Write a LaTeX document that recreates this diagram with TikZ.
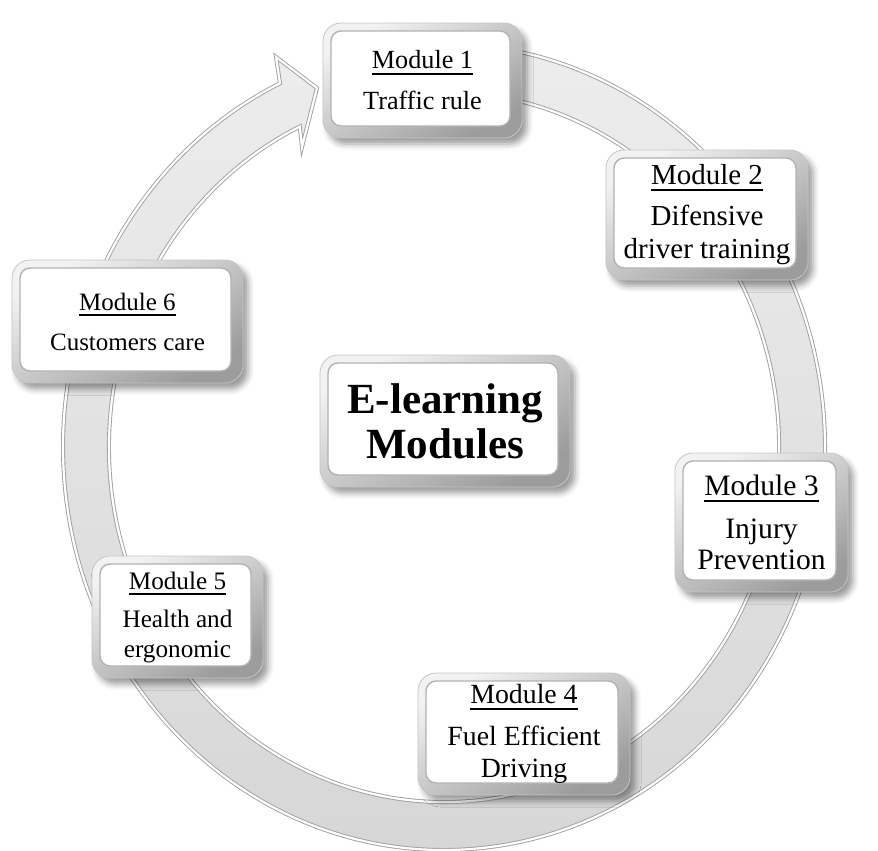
\documentclass[tikz,border=0pt]{standalone}
\usepackage{fontspec}
\setmainfont{Liberation Serif}
\usetikzlibrary{calc,shadows.blur}
\newsavebox\titlebox
% underlined module heading with a slightly heavier rule
\newcommand\modtitle[1]{\sbox\titlebox{#1}\rlap{\rule[-3pt]{\wd\titlebox}{0.9pt}}\usebox\titlebox}
\begin{document}
\begin{tikzpicture}[x=0.5pt,y=-0.5pt,
  ringpath/.style={draw=gray!75, line width=0.45pt, double=white, double distance=1.1pt,
    top color=gray!14, bottom color=gray!32},
  bevel/.style 2 args={rectangle, rounded corners=9pt, inner sep=0pt,
    minimum width=#1pt, minimum height=#2pt, align=center, text=black,
    top color=gray!10, bottom color=gray!78, shading angle=30,
    draw=gray!45, line width=0.4pt,
    blur shadow={shadow xshift=2.5pt, shadow yshift=-3pt, shadow blur radius=3pt, shadow opacity=40},
    path picture={
      \fill[white, rounded corners=5pt]
        ([xshift=4pt,yshift=-4pt]path picture bounding box.north west) rectangle
        ([xshift=-6pt,yshift=6pt]path picture bounding box.south east);
      \draw[gray!60, line width=0.7pt, rounded corners=5pt]
        ([xshift=4pt,yshift=-4pt]path picture bounding box.north west) rectangle
        ([xshift=-6pt,yshift=6pt]path picture bounding box.south east);
    }},
  fs/.style 2 args={font=\fontsize{#1pt}{#2pt}\selectfont}
]
\useasboundingbox (0,0) rectangle (878,851);

% circular arrow running clockwise round the hub
\coordinate (c) at (444,447);
\coordinate (hout) at (276,57);
\coordinate (tip) at (317,88);
\coordinate (hin) at (302,147);
\path[ringpath]
  ($(c)+(265:381 and 403)$) arc[start angle=265, end angle=604.5, x radius=381, y radius=403]
  -- (hout) -- (tip) -- (hin)
  -- ($(c)+(604.5:335 and 355)$) arc[start angle=604.5, end angle=265, x radius=335, y radius=355]
  -- cycle;

% hub
\node[bevel={125}{66}, font=\bfseries\fontsize{21.5pt}{22.5pt}\selectfont] (hub) at (445,421)
  {E-learning\\Modules};

% modules
\node[bevel={99.5}{57.5}, fs={13.1}{15.5}] (m1) at (422.5,80.5)
  {\modtitle{Module 1}\\[5pt]Traffic rule};
\node[bevel={101}{65}, fs={14.5}{16.5}] (m2) at (707,215)
  {\modtitle{Module 2}\\[4pt]Difensive\\driver training};
\node[bevel={86.5}{69.5}, fs={14.8}{15.5}] (m3) at (761.5,522.5)
  {\modtitle{Module 3}\\[6pt]Injury\\Prevention};
\node[bevel={106}{61}, fs={13.9}{16}] (m4) at (524,734)
  {\modtitle{Module 4}\\[5pt]Fuel Efficient\\Driving};
\node[bevel={85.5}{61}, fs={12.6}{15}] (m5) at (177.5,617)
  {\modtitle{Module 5}\\[4pt]Health and\\ergonomic};
\node[bevel={115.5}{61.5}, fs={12.5}{15}] (m6) at (127.5,321.5)
  {\modtitle{Module 6}\\[5pt]Customers care};
\end{tikzpicture}
\end{document}
